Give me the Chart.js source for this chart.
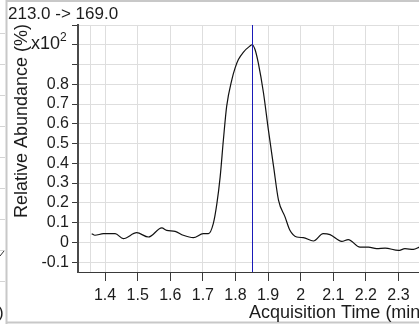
<!DOCTYPE html>
<html>
<head>
<meta charset="utf-8">
<title>213.0 -> 169.0</title>
<script src="https://cdn.jsdelivr.net/npm/chart.js@4.4.1/dist/chart.umd.min.js"></script>
<style>
    html, body { margin: 0; padding: 0; background: #ffffff; }
    #wrap { width: 419px; height: 324px; }
</style>
</head>
<body>
<div id="wrap"><canvas id="chrom" width="419" height="324"></canvas></div>
<script>
// MRM transition trace, abundance in units of x10^2 %
const transition = '213.0 -> 169.0';
const times = [1.359, 1.369, 1.395, 1.431, 1.456, 1.497, 1.533, 1.574, 1.589, 1.615,
    1.640, 1.671, 1.701, 1.717, 1.732, 1.743, 1.753, 1.763, 1.773, 1.789,
    1.799, 1.809, 1.824, 1.844, 1.851, 1.860, 1.870, 1.886, 1.901, 1.917,
    1.932, 1.952, 1.967, 1.988, 2.008, 2.039, 2.069, 2.090, 2.126, 2.146,
    2.182, 2.208, 2.233, 2.259, 2.300, 2.320, 2.346, 2.364];
const abundance = [0.044, 0.036, 0.044, 0.044, 0.019, 0.049, 0.027, 0.073, 0.061, 0.056,
    0.036, 0.024, 0.044, 0.044, 0.095, 0.196, 0.330, 0.519, 0.688, 0.824,
    0.883, 0.925, 0.962, 0.993, 1.000, 0.976, 0.908, 0.756, 0.569, 0.383,
    0.214, 0.129, 0.061, 0.027, 0.024, 0.007, 0.044, 0.039, 0.005, 0.014,
    -0.024, -0.024, -0.032, -0.029, -0.041, -0.032, -0.036, -0.024];
const peakTime = 1.851;

// axis ticks
const xTicks = [1.4, 1.5, 1.6, 1.7, 1.8, 1.9, 2.0, 2.1, 2.2, 2.3];
const xExtraGrid = 1.355;
const yTicks = [-0.1, 0, 0.1, 0.2, 0.3, 0.4, 0.5, 0.6, 0.7, 0.8, 0.9, 1.0, 1.1];
const yLabelMax = 0.8;

const FONT = '"Liberation Sans", Arial, sans-serif';
const TEXT = '#1c1c1c';

function fmt(v) {
    return String(Number(v.toFixed(1)));
}

// frame, neighbour panel edge, peak marker and text labels
const decorations = {
    id: 'decorations',
    beforeDraw(chart) {
        const ctx = chart.ctx;
        ctx.save();
        ctx.strokeStyle = '#c8c8c8';
        ctx.lineWidth = 2;
        ctx.beginPath();
        ctx.moveTo(6.5, 0);
        ctx.lineTo(6.5, 324);
        ctx.moveTo(6, 1);
        ctx.lineTo(419, 1);
        ctx.moveTo(6, 322.5);
        ctx.lineTo(419, 322.5);
        ctx.stroke();

        // edge of the panel to the left
        ctx.lineWidth = 1;
        ctx.strokeStyle = '#d4d4d4';
        ctx.beginPath();
        for (let y = 33.5; y < 300; y += 31) {
            ctx.moveTo(0, y);
            ctx.lineTo(5, y);
        }
        ctx.stroke();
        ctx.strokeStyle = '#333';
        ctx.beginPath();
        ctx.moveTo(0, 256);
        ctx.lineTo(4, 251);
        ctx.stroke();
        ctx.fillStyle = TEXT;
        ctx.font = '17px ' + FONT;
        ctx.fillText(')', -2, 318);
        ctx.restore();
    },
    afterDatasetsDraw(chart) {
        const ctx = chart.ctx;
        const area = chart.chartArea;
        const x = Math.round(chart.scales.x.getPixelForValue(peakTime)) + 0.5;
        ctx.save();
        ctx.strokeStyle = '#1a1ab8';
        ctx.lineWidth = 1;
        ctx.beginPath();
        ctx.moveTo(x, area.top);
        ctx.lineTo(x, area.bottom);
        ctx.stroke();
        ctx.restore();
    },
    afterDraw(chart) {
        const ctx = chart.ctx;
        ctx.save();
        ctx.fillStyle = TEXT;
        ctx.textBaseline = 'alphabetic';

        ctx.font = '17px ' + FONT;
        ctx.fillText(transition, 8, 19);

        ctx.font = '18px ' + FONT;
        ctx.fillText('x10', 31, 49);
        const w = ctx.measureText('x10').width;
        ctx.font = '12px ' + FONT;
        ctx.fillText('2', 31 + w, 41);

        ctx.font = '18px ' + FONT;
        ctx.fillText('Acquisition Time (min)', 249, 318);

        ctx.translate(27, 121);
        ctx.rotate(-Math.PI / 2);
        ctx.textAlign = 'center';
        ctx.fillText('Relative Abundance (%)', 0, 0);
        ctx.restore();
    }
};

new Chart(document.getElementById('chrom'), {
    type: 'line',
    data: {
        datasets: [{
            data: times.map((t, i) => ({ x: t, y: abundance[i] })),
            borderColor: '#111111',
            borderWidth: 1.2,
            pointRadius: 0,
            cubicInterpolationMode: 'monotone',
            fill: false
        }]
    },
    options: {
        responsive: false,
        animation: false,
        events: [],
        layout: { padding: { top: 25, right: 0, bottom: 0, left: 0 } },
        plugins: {
            legend: { display: false },
            tooltip: { enabled: false }
        },
        scales: {
            x: {
                type: 'linear',
                min: 1.317,
                max: 2.363,
                afterBuildTicks: (scale) => {
                    scale.ticks = [xExtraGrid, ...xTicks].map(v => ({ value: v }));
                },
                afterFit: (scale) => { scale.height = 52; },
                ticks: {
                    autoSkip: false,
                    maxRotation: 0,
                    padding: 5,
                    color: TEXT,
                    font: { family: FONT, size: 16 },
                    callback: (v) => (v === xExtraGrid ? '' : fmt(v))
                },
                grid: {
                    color: '#dedede',
                    tickLength: 9,
                    tickColor: (ctx) => (ctx.tick && ctx.tick.value === xExtraGrid ? 'rgba(0,0,0,0)' : '#3a3a3a')
                },
                border: { color: '#3a3a3a', width: 1 }
            },
            y: {
                min: -0.15,
                max: 1.1,
                afterBuildTicks: (scale) => {
                    scale.ticks = yTicks.map(v => ({ value: v }));
                },
                afterFit: (scale) => { scale.width = 78; },
                ticks: {
                    autoSkip: false,
                    padding: 3,
                    color: TEXT,
                    font: { family: FONT, size: 16 },
                    callback: (v) => (v <= yLabelMax + 1e-9 ? fmt(v) : '')
                },
                grid: {
                    color: '#dedede',
                    tickLength: 6,
                    tickColor: '#3a3a3a'
                },
                border: { color: '#4a4a4a', width: 2 }
            }
        }
    },
    plugins: [decorations]
});
</script>
</body>
</html>
